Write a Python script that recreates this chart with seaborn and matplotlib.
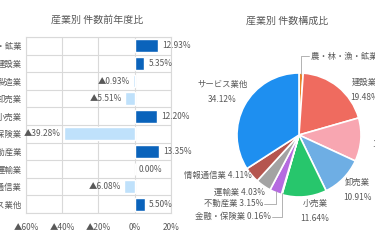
import numpy as np
import pandas as pd
import matplotlib
matplotlib.use("Agg")
import matplotlib.pyplot as plt
import seaborn as sns

industries = ['農・林・漁・鉱業', '建設業', '製造業', '卸売業', '小売業',
              '金融・保険業', '不動産業', '運輸業', '情報通信業', 'サービス業他']
yoy_change = [12.93, 5.35, -0.93, -5.51, 12.20, -39.28, 13.35, 0.00, -6.08, 5.50]
share = [1.08, 19.48, 11.32, 10.91, 11.64, 0.16, 3.15, 4.03, 4.11, 34.12]

x_ticks = [-60, -40, -20, 0, 20]
pie_colors = ['#e8842c', '#ef6b5f', '#f8a6b1', '#6eaee4', '#27c66c',
              '#f2c14e', '#b56be0', '#a3a3a3', '#b5564f', '#1e8ff0']

TEXT = '#595959'
GRID = '#d9d9d9'


def fmt_pct(v):
    return f"▲{abs(v):.2f}%" if v < 0 else f"{v:.2f}%"


def bar_chart(fig):
    ax = fig.add_axes([26 / 375, 37 / 250, 145 / 375, 176 / 250])
    df = pd.DataFrame({'industry': industries, 'change': yoy_change})
    df['sign'] = np.where(df['change'] < 0, 'neg', 'pos')
    sns.barplot(data=df, x='change', y='industry', hue='sign', orient='h',
                palette={'pos': '#0a63bb', 'neg': '#bfe1fb'}, width=0.72,
                dodge=False, legend=False, saturation=1, ax=ax)
    ax.set_xlim(-60, 20)
    ax.set_ylim(len(industries) - 0.5, -0.5)
    ax.set_xticks(x_ticks)
    ax.set_xticklabels([fmt_pct(t).replace('.00', '') for t in x_ticks])
    ax.set_yticks(np.arange(len(industries) + 1) - 0.5, minor=True)
    ax.grid(axis='y', which='minor', color=GRID, lw=0.8)
    ax.grid(axis='x', which='major', color=GRID, lw=0.8)
    ax.set_axisbelow(True)
    ax.tick_params(which='both', length=0, labelsize=6, colors=TEXT, pad=3)
    ax.tick_params(axis='x', pad=7)
    ax.set_xlabel('')
    ax.set_ylabel('')
    for s in ax.spines.values():
        s.set_color(GRID)
        s.set_linewidth(0.8)
    for i, v in enumerate(yoy_change):
        if v < 0:
            ax.annotate(fmt_pct(v), (v, i), xytext=(-2, 0), textcoords='offset points',
                        ha='right', va='center', fontsize=6, color=TEXT)
        else:
            ax.annotate(fmt_pct(v), (v, i), xytext=(3, 0), textcoords='offset points',
                        ha='left', va='center', fontsize=6, color=TEXT)
    fig.text(97 / 375, 1 - 20 / 250, '産業別 件数前年度比', ha='center', va='center',
             fontsize=7.2, color=TEXT)


def pie_chart(fig):
    ax = fig.add_axes([237 / 375, 53 / 250, 124 / 375, 124 / 250])
    wedges, _ = ax.pie(share, colors=pie_colors, startangle=90, counterclock=False,
                       wedgeprops=dict(edgecolor='white', linewidth=1.2))
    ax.set_xlim(-1, 1)
    ax.set_ylim(-1, 1)
    ax.set_axis_off()

    # two-line labels placed like the original
    two_line = {
        'サービス業他': (-1.24, 0.69, 'center'),
        '建設業': (1.06, 0.73, 'center'),
        '製造業': (1.42, -0.03, 'center'),
        '卸売業': (0.94, -0.89, 'center'),
        '小売業': (0.26, -1.23, 'center'),
    }
    # one-line labels with leader lines
    one_line = {
        '農・林・漁・鉱業': (0.19, 1.27, 'left'),
        '情報通信業': (-0.76, -0.65, 'right'),
        '運輸業': (-0.55, -0.92, 'right'),
        '不動産業': (-0.58, -1.11, 'right'),
        '金融・保険業': (-0.45, -1.32, 'right'),
    }
    for name, v, w in zip(industries, share, wedges):
        if name in two_line:
            x, y, ha = two_line[name]
            ax.text(x, y, f"{name}\n{v:.2f}%", ha=ha, va='center', fontsize=6,
                    color=TEXT, linespacing=1.9, clip_on=False)
        else:
            x, y, ha = one_line[name]
            ax.text(x, y, f"{name} {v:.2f}%", ha=ha, va='center', fontsize=6,
                    color=TEXT, clip_on=False)
            mid = np.deg2rad((w.theta1 + w.theta2) / 2)
            ex, ey = np.cos(mid) * 0.98, np.sin(mid) * 0.98
            if name in ('不動産業', '金融・保険業'):
                ax.plot([x + 0.02, ex, ex], [y, y, ey], color='#a6a6a6', lw=0.6,
                        clip_on=False)
            elif name == '農・林・漁・鉱業':
                ax.plot([x - 0.03, ex, ex], [y, y, ey], color='#a6a6a6', lw=0.6,
                        clip_on=False)
    fig.text(287 / 375, 1 - 21 / 250, '産業別 件数構成比', ha='center', va='center',
             fontsize=7.2, color=TEXT)


def main():
    sns.set_theme(style='white')
    plt.rcParams['font.family'] = ['Noto Sans CJK JP', 'DejaVu Sans']
    fig = plt.figure(figsize=(3.75, 2.5), dpi=100)
    bar_chart(fig)
    pie_chart(fig)
    fig.savefig('out.png', dpi=100, facecolor='white')


if __name__ == "__main__":
    main()
